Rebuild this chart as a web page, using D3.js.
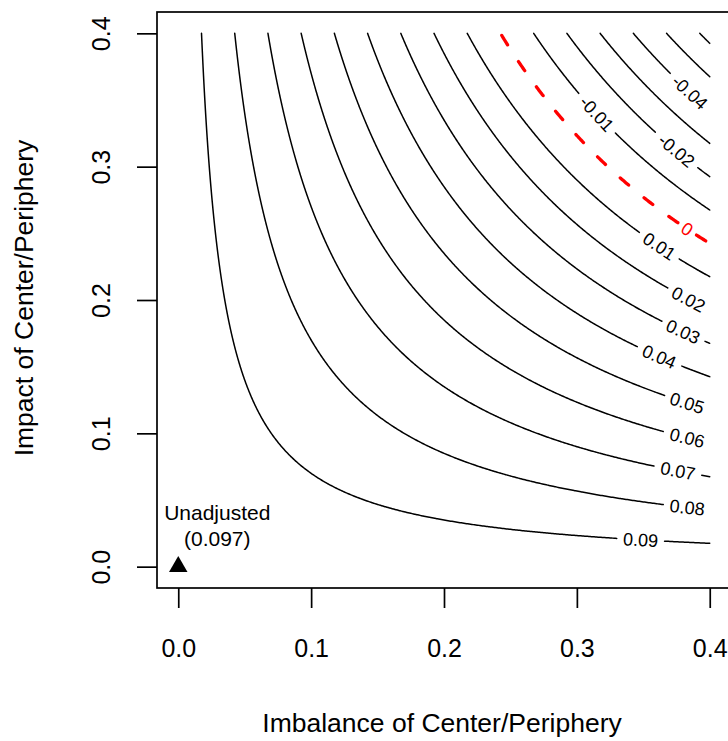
<!DOCTYPE html>
<html>
<head>
<meta charset="utf-8">
<script src="https://cdn.jsdelivr.net/npm/d3@7"></script>
<style>
  body { margin: 0; background: #fff; }
  svg { display: block; font-family: "Liberation Sans", Arial, sans-serif; }
  .frame { fill: none; stroke: #000; stroke-width: 1.7px; }
  .axis path.domain { display: none; }
  .axis .tick line { stroke: #000; stroke-width: 1.7px; }
  .axis .tick text { font-size: 25px; fill: #000; }
  .title { font-size: 26.5px; }
  .contour { fill: none; stroke: #000; stroke-width: 1.5px; stroke-linecap: round; }
  .contour.zero { stroke: #ff0000; stroke-width: 3.3px; stroke-dasharray: 11 20; }
  .clabel { font-size: 18px; }
  .clabel.zero { fill: #ff0000; }
  .note { font-size: 21px; }
</style>
</head>
<body>
<script>
// unadjusted estimate, adjusted = unadjusted - imbalance * impact
const unadjusted = 0.097;
const gridMax = 0.4;

const contourLevels = [0.09, 0.08, 0.07, 0.06, 0.05, 0.04, 0.03, 0.02, 0.01, 0,
  -0.01, -0.02, -0.03, -0.04, -0.05, -0.06];

// contour labels: level and the imbalance value where the label sits
const labelLevels = [0.09, 0.08, 0.07, 0.06, 0.05, 0.04, 0.03, 0.02, 0.01, 0, -0.01, -0.02, -0.04];
const labelX = [0.348, 0.383, 0.376, 0.383, 0.383, 0.362, 0.380, 0.384, 0.362, 0.383, 0.315, 0.375, 0.385];

const xTicks = [0, 0.1, 0.2, 0.3, 0.4];
const yTicks = [0, 0.1, 0.2, 0.3, 0.4];
const tickLabels = ['0.0', '0.1', '0.2', '0.3', '0.4'];

const width = 728;
const height = 741;
const plot = { left: 157, right: 731, top: 12, bottom: 588 };

const svg = d3.select('body').append('svg')
  .attr('width', width)
  .attr('height', height);

// R style domain: data range padded by 4%
const x = d3.scaleLinear()
  .domain([-0.016, 0.416])
  .range([plot.left, plot.right]);

const y = d3.scaleLinear()
  .domain([-0.016, 0.416])
  .range([plot.bottom, plot.top]);

// sensitivity grid
const n = 401;
const step = gridMax / (n - 1);
const values = new Float64Array(n * n);
for (let j = 0; j < n; j++) {
  for (let i = 0; i < n; i++) {
    values[j * n + i] = unadjusted - (i * step) * (j * step);
  }
}

const contours = d3.contours()
  .size([n, n])
  .thresholds(contourLevels)(values);

const onFrame = p => p[0] === 0 || p[0] === n || p[1] === 0 || p[1] === n;

// pull the open iso-line out of each closed ring
function openRuns(ring) {
  let start = ring.findIndex(onFrame);
  if (start < 0) return [ring];
  let runs = [];
  let cur = [];
  for (let k = 1; k <= ring.length; k++) {
    let p = ring[(start + k) % ring.length];
    if (onFrame(p)) {
      if (cur.length > 1) runs.push(cur);
      cur = [];
    } else {
      cur.push(p);
    }
  }
  return runs;
}

function toPixels(run) {
  let pts = run.map(p => [x((p[0] - 0.5) * step), y((p[1] - 0.5) * step)]);
  if (pts[0][0] > pts[pts.length - 1][0]) pts.reverse();
  return pts;
}

const line = d3.line();
const lineGroup = svg.append('g');
const labelGroup = svg.append('g');

contours.forEach(function(c) {
  let level = c.value;
  let isZero = Math.abs(level) < 1e-9;
  let runs = [];
  c.coordinates.forEach(function(poly) {
    poly.forEach(function(ring) {
      openRuns(ring).forEach(r => runs.push(toPixels(r)));
    });
  });

  let li = labelLevels.findIndex(v => Math.abs(v - level) < 1e-9);

  runs.forEach(function(pts) {
    let pieces = [pts];

    if (li >= 0) {
      let lx = x(labelX[li]);
      let k = d3.minIndex(pts, p => Math.abs(p[0] - lx));
      let a = pts[Math.max(0, k - 4)];
      let b = pts[Math.min(pts.length - 1, k + 4)];
      let angle = Math.atan2(b[1] - a[1], b[0] - a[0]) * 180 / Math.PI;
      let c0 = pts[k];

      let txt = isZero ? '0' : String(level);
      let label = labelGroup.append('text')
        .attr('class', 'clabel' + (isZero ? ' zero' : ''))
        .attr('text-anchor', 'middle')
        .attr('dy', '0.35em')
        .attr('transform', 'translate(' + c0[0] + ',' + c0[1] + ') rotate(' + angle + ')')
        .text(txt);
      let r = label.node().getComputedTextLength() / 2 + 6;

      let before = pts.filter((p, idx) => idx < k && Math.hypot(p[0] - c0[0], p[1] - c0[1]) > r);
      let after = pts.filter((p, idx) => idx > k && Math.hypot(p[0] - c0[0], p[1] - c0[1]) > r);
      // dashes start at the label gap
      pieces = [before.reverse(), after].filter(p => p.length > 1);
    }

    pieces.forEach(function(p) {
      lineGroup.append('path')
        .attr('class', 'contour' + (isZero ? ' zero' : ''))
        .attr('d', line(p));
    });
  });
});

// frame
svg.append('rect')
  .attr('class', 'frame')
  .attr('x', plot.left)
  .attr('y', plot.top)
  .attr('width', plot.right - plot.left)
  .attr('height', plot.bottom - plot.top);

// axes
svg.append('g')
  .attr('class', 'axis')
  .attr('transform', 'translate(0,' + plot.bottom + ')')
  .call(d3.axisBottom(x)
    .tickValues(xTicks)
    .tickFormat((d, i) => tickLabels[i])
    .tickSize(20)
    .tickPadding(31));

let yAxis = svg.append('g')
  .attr('class', 'axis')
  .attr('transform', 'translate(' + plot.left + ',0)')
  .call(d3.axisLeft(y)
    .tickValues(yTicks)
    .tickFormat((d, i) => tickLabels[i])
    .tickSize(20));

yAxis.selectAll('.tick text')
  .attr('transform', 'rotate(-90)')
  .attr('x', 0)
  .attr('y', -56)
  .attr('dy', '0.35em')
  .attr('text-anchor', 'middle');

// unadjusted point
svg.append('path')
  .attr('transform', 'translate(' + x(0) + ',' + y(0) + ')')
  .attr('d', d3.symbol(d3.symbolTriangle, 148)());

let note = svg.append('text')
  .attr('class', 'note')
  .attr('text-anchor', 'middle');
note.append('tspan')
  .attr('x', x(0) + 39)
  .attr('y', y(0) - 47)
  .text('Unadjusted');
note.append('tspan')
  .attr('x', x(0) + 39)
  .attr('y', y(0) - 21)
  .text('(' + unadjusted + ')');

// titles
svg.append('text')
  .attr('class', 'title')
  .attr('text-anchor', 'middle')
  .attr('x', (plot.left + plot.right) / 2 - 2)
  .attr('y', 732)
  .text('Imbalance of Center/Periphery');

svg.append('text')
  .attr('class', 'title')
  .attr('text-anchor', 'middle')
  .attr('dy', '0.35em')
  .attr('transform', 'translate(24,' + ((plot.top + plot.bottom) / 2 - 2) + ') rotate(-90)')
  .text('Impact of Center/Periphery');
</script>
</body>
</html>
